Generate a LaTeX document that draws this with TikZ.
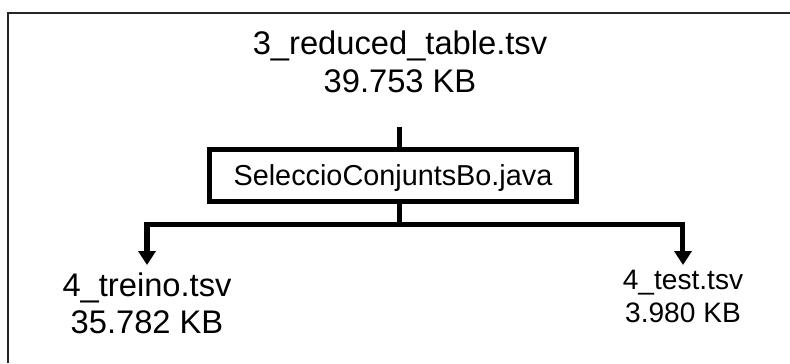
\documentclass[tikz,border=0pt]{standalone}
\usepackage{fontspec}
\setmainfont{Liberation Sans}
\usetikzlibrary{arrows.meta}

\begin{document}
\begin{tikzpicture}[
    file/.style={align=center, inner sep=0pt, outer sep=0.08cm, anchor=north},
    prog/.style={draw, line width=0.05cm, inner sep=0pt, minimum width=3.67cm, minimum height=0.52cm, text depth=0pt},
    link/.style={line width=0.05cm},
    arrow/.style={link, -{Triangle[width=0.17cm,length=0.14cm]}}
  ]
        \useasboundingbox (0,0) rectangle (7.9,3.63);

        % Frame
        \draw[line width=0.02cm, black!85] (0.08,0) -- (0.08,3.50) -- (7.9,3.50);

        % Input table
        \node[file, font=\fontsize{9.3}{10.8}\selectfont] (src) at (4.0,3.40) {3\_reduced\_table.tsv\\39.753 KB};

        % Java program
        \node[prog, font=\fontsize{8.2}{9}\selectfont] (java) at (3.93,1.875) {SeleccioConjuntsBo.java};

        % Output tables
        \node[file, font=\fontsize{9.3}{10.5}\selectfont] (treino) at (1.47,0.98) {4\_treino.tsv\\35.782 KB};
        \node[file, outer sep=0.05cm, font=\fontsize{8}{9.4}\selectfont] (test) at (6.83,0.98) {4\_test.tsv\\3.980 KB};

        % Links
        \coordinate (split) at (4.0,1.39);
        \draw[link, shorten <=0.26cm] (src.south) -- (src.south |- java.north);
        \draw[link] (java.south -| split) -- (split);
        \draw[arrow] (split) -| (treino.north);
        \draw[arrow] (split) -| (test.north);
      \end{tikzpicture}
\end{document}
